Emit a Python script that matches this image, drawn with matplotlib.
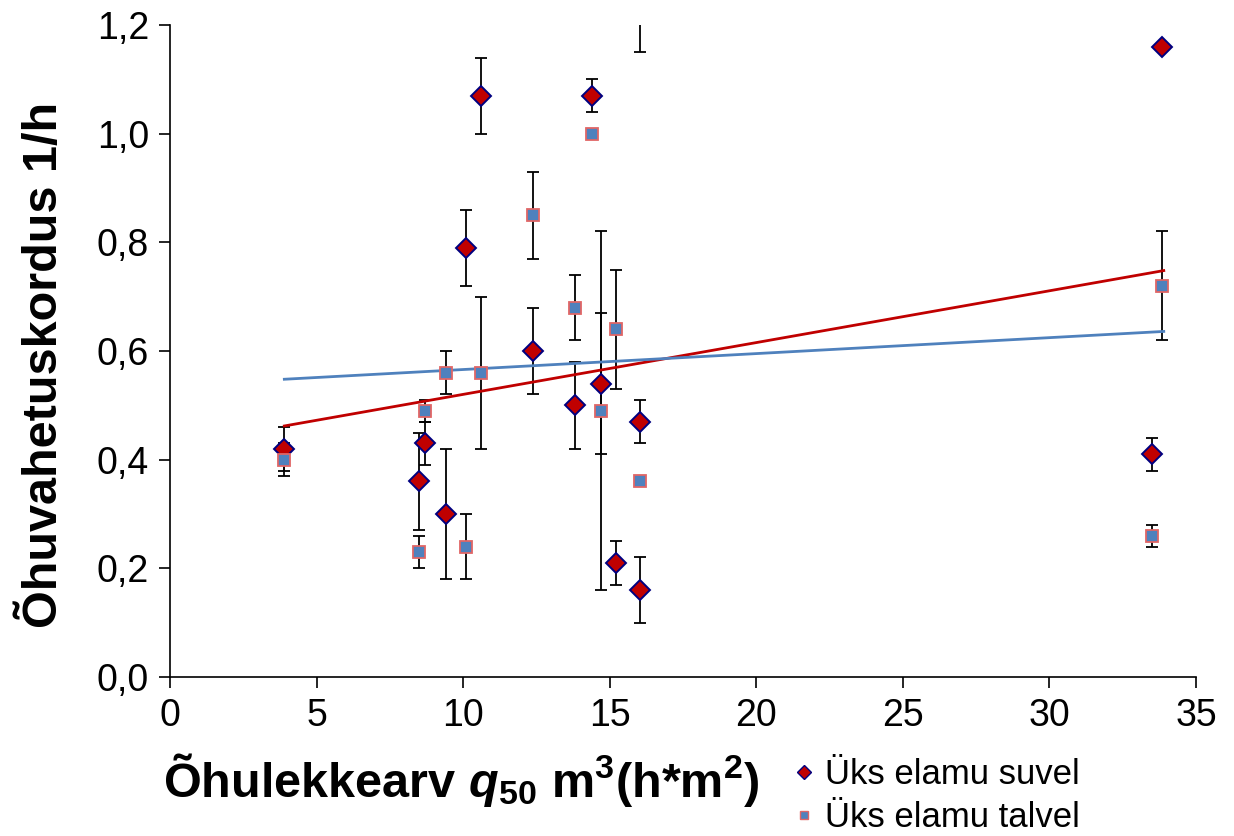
import matplotlib
matplotlib.use("Agg")
import matplotlib.pyplot as plt
from matplotlib.ticker import FuncFormatter
from matplotlib.lines import Line2D

plt.rcParams["font.family"] = ["Liberation Sans", "DejaVu Sans"]
plt.rcParams["mathtext.fontset"] = "custom"
plt.rcParams["mathtext.rm"] = "Liberation Sans"
plt.rcParams["mathtext.it"] = "Liberation Sans:italic"
plt.rcParams["mathtext.bf"] = "Liberation Sans:bold"
plt.rcParams["mathtext.bfit"] = "Liberation Sans:bold:italic"

# Üks elamu suvel (summer)
suvel_x = [3.9, 8.5, 8.7, 9.4, 10.1, 10.6, 12.4, 13.8, 14.4, 14.7, 15.2, 16.05, 16.05, 33.5, 33.85]
suvel_y = [0.42, 0.36, 0.43, 0.30, 0.79, 1.07, 0.60, 0.50, 1.07, 0.54, 0.21, 0.47, 0.16, 0.41, 1.16]
suvel_err = [0.04, 0.09, 0.04, 0.12, 0.07, 0.07, 0.08, 0.08, 0.03, 0.13, 0.04, 0.04, 0.06, 0.03, 0.0]

# Üks elamu talvel (winter)
talvel_x = [3.9, 8.5, 8.7, 9.4, 10.1, 10.6, 12.4, 13.8, 14.4, 14.7, 15.2, 16.05, 16.05, 33.5, 33.85]
talvel_y = [0.40, 0.23, 0.49, 0.56, 0.24, 0.56, 0.85, 0.68, 1.00, 0.49, 0.64, 0.36, 1.25, 0.26, 0.72]
talvel_err = [0.03, 0.03, 0.02, 0.04, 0.06, 0.14, 0.08, 0.06, 0.0, 0.33, 0.11, 0.0, 0.10, 0.02, 0.10]

# linear trend lines
trend_x = [3.9, 33.9]
suvel_trend = [0.462, 0.748]
talvel_trend = [0.548, 0.636]

red = "#C00000"
blue = "#4F81BD"

fig = plt.figure(figsize=(12.34, 8.36), dpi=100)
ax = fig.add_axes([170 / 1234, 1 - 677 / 836, (1196 - 170) / 1234, (677 - 25) / 836])

# error bars first, markers on top
ax.errorbar(suvel_x, suvel_y, yerr=suvel_err, fmt="none", ecolor="black",
            elinewidth=1.3, capsize=4, capthick=1.3, zorder=2)
ax.errorbar(talvel_x, talvel_y, yerr=talvel_err, fmt="none", ecolor="black",
            elinewidth=1.3, capsize=4, capthick=1.3, zorder=2)

ax.plot(trend_x, suvel_trend, color=red, lw=2, zorder=3)
ax.plot(trend_x, talvel_trend, color=blue, lw=2, zorder=3)

ax.plot(suvel_x, suvel_y, ls="none", marker="D", ms=10, mfc=red, mec="#000080",
        mew=1.4, zorder=4)
ax.plot(talvel_x, talvel_y, ls="none", marker="s", ms=9, mfc=blue, mec="#E06666",
        mew=1.3, zorder=4)

ax.set_xlim(0, 35)
ax.set_ylim(0, 1.2)
ax.set_xticks(range(0, 36, 5))
ax.set_yticks([0, 0.2, 0.4, 0.6, 0.8, 1.0, 1.2])
ax.yaxis.set_major_formatter(FuncFormatter(lambda v, p: f"{v:.1f}".replace(".", ",")))
ax.tick_params(axis="both", direction="out", length=8, width=1.2, labelsize=27, pad=7)

for s in ["top", "right"]:
    ax.spines[s].set_visible(False)
for s in ["left", "bottom"]:
    ax.spines[s].set_linewidth(1.2)

fig.text(45 / 1234, 1 - 365 / 836, "Õhuvahetuskordus 1/h", rotation=90,
         fontsize=35, fontweight="bold", ha="center", va="center")
fig.text(163 / 1234, 1 - 780 / 836,
         r"Õhulekkearv $\mathbfit{q}_{\mathbf{50}}$ m$^{\mathbf{3}}$(h*m$^{\mathbf{2}}$)",
         fontsize=35, fontweight="bold", ha="left", va="center")

handles = [
    Line2D([], [], ls="none", marker="D", ms=7, mfc=red, mec="#000080", mew=1),
    Line2D([], [], ls="none", marker="s", ms=6, mfc=blue, mec="#E06666", mew=1),
]
fig.legend(handles, ["Üks elamu suvel", "Üks elamu talvel"], loc="upper left",
           bbox_to_anchor=(794 / 1234, 1 - 758 / 836), frameon=False, fontsize=25,
           handlelength=0.6, handletextpad=0.3, labelspacing=0.3, borderpad=0,
           borderaxespad=0)

fig.savefig("out.png", dpi=100)
